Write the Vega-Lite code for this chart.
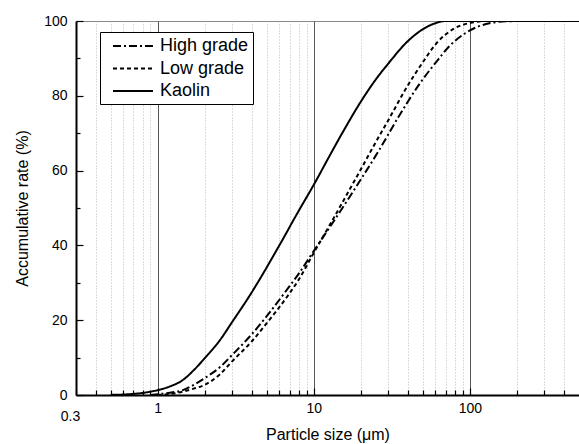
{
  "$schema": "https://vega.github.io/schema/vega-lite/v6.json",
  "width": 503,
  "height": 374,
  "autosize": {"type": "none"},
  "padding": {"left": 76, "top": 21, "right": 0, "bottom": 49},
  "config": {
    "view": {"stroke": "#888", "strokeWidth": 1},
    "font": "Liberation Sans",
    "axis": {"labelColor": "black", "titleColor": "black", "labelFont": "Liberation Sans", "titleFont": "Liberation Sans"}
  },
  "data": {
    "values": [
      {"size": 0.5, "rate": 0.03, "sample": "Kaolin"},
      {"size": 0.6, "rate": 0.12, "sample": "Kaolin"},
      {"size": 0.7, "rate": 0.3, "sample": "Kaolin"},
      {"size": 0.8, "rate": 0.55, "sample": "Kaolin"},
      {"size": 0.9, "rate": 0.9, "sample": "Kaolin"},
      {"size": 1, "rate": 1.3, "sample": "Kaolin"},
      {"size": 1.2, "rate": 2.3, "sample": "Kaolin"},
      {"size": 1.45, "rate": 4, "sample": "Kaolin"},
      {"size": 1.7, "rate": 6.6, "sample": "Kaolin"},
      {"size": 2, "rate": 9.8, "sample": "Kaolin"},
      {"size": 2.5, "rate": 14.6, "sample": "Kaolin"},
      {"size": 3, "rate": 19.5, "sample": "Kaolin"},
      {"size": 4, "rate": 27.4, "sample": "Kaolin"},
      {"size": 4.5, "rate": 30.9, "sample": "Kaolin"},
      {"size": 6, "rate": 39.9, "sample": "Kaolin"},
      {"size": 8, "rate": 49.2, "sample": "Kaolin"},
      {"size": 10, "rate": 56.2, "sample": "Kaolin"},
      {"size": 13, "rate": 64.9, "sample": "Kaolin"},
      {"size": 15.4, "rate": 70.4, "sample": "Kaolin"},
      {"size": 20, "rate": 78.4, "sample": "Kaolin"},
      {"size": 25, "rate": 84.4, "sample": "Kaolin"},
      {"size": 30, "rate": 88.6, "sample": "Kaolin"},
      {"size": 40, "rate": 94.6, "sample": "Kaolin"},
      {"size": 50, "rate": 97.8, "sample": "Kaolin"},
      {"size": 60, "rate": 99.4, "sample": "Kaolin"},
      {"size": 70, "rate": 100, "sample": "Kaolin"},
      {"size": 500, "rate": 100, "sample": "Kaolin"},
      {"size": 0.9, "rate": 0, "sample": "High grade"},
      {"size": 1, "rate": 0.2, "sample": "High grade"},
      {"size": 1.2, "rate": 0.6, "sample": "High grade"},
      {"size": 1.45, "rate": 1.3, "sample": "High grade"},
      {"size": 1.7, "rate": 2.7, "sample": "High grade"},
      {"size": 2, "rate": 4.5, "sample": "High grade"},
      {"size": 2.5, "rate": 7.4, "sample": "High grade"},
      {"size": 3, "rate": 10.7, "sample": "High grade"},
      {"size": 4, "rate": 16.2, "sample": "High grade"},
      {"size": 5, "rate": 21.1, "sample": "High grade"},
      {"size": 7, "rate": 29.1, "sample": "High grade"},
      {"size": 8, "rate": 32.4, "sample": "High grade"},
      {"size": 10, "rate": 38.5, "sample": "High grade"},
      {"size": 13, "rate": 45.6, "sample": "High grade"},
      {"size": 17, "rate": 53, "sample": "High grade"},
      {"size": 20, "rate": 57.6, "sample": "High grade"},
      {"size": 26.5, "rate": 65.8, "sample": "High grade"},
      {"size": 34.7, "rate": 74.2, "sample": "High grade"},
      {"size": 47.8, "rate": 83.3, "sample": "High grade"},
      {"size": 61, "rate": 89.1, "sample": "High grade"},
      {"size": 74, "rate": 93.3, "sample": "High grade"},
      {"size": 95.6, "rate": 97, "sample": "High grade"},
      {"size": 127, "rate": 99.2, "sample": "High grade"},
      {"size": 170, "rate": 99.9, "sample": "High grade"},
      {"size": 220, "rate": 100, "sample": "High grade"},
      {"size": 500, "rate": 100, "sample": "High grade"},
      {"size": 1, "rate": 0, "sample": "Low grade"},
      {"size": 1.2, "rate": 0.25, "sample": "Low grade"},
      {"size": 1.45, "rate": 0.9, "sample": "Low grade"},
      {"size": 1.7, "rate": 1.7, "sample": "Low grade"},
      {"size": 2, "rate": 2.7, "sample": "Low grade"},
      {"size": 2.5, "rate": 5.5, "sample": "Low grade"},
      {"size": 3, "rate": 9, "sample": "Low grade"},
      {"size": 4, "rate": 14.3, "sample": "Low grade"},
      {"size": 5, "rate": 19.2, "sample": "Low grade"},
      {"size": 7, "rate": 27.2, "sample": "Low grade"},
      {"size": 8, "rate": 30.8, "sample": "Low grade"},
      {"size": 10, "rate": 38, "sample": "Low grade"},
      {"size": 13, "rate": 46.3, "sample": "Low grade"},
      {"size": 17, "rate": 55, "sample": "Low grade"},
      {"size": 20, "rate": 60.3, "sample": "Low grade"},
      {"size": 23.4, "rate": 65.5, "sample": "Low grade"},
      {"size": 30.7, "rate": 74.2, "sample": "Low grade"},
      {"size": 39.3, "rate": 82.2, "sample": "Low grade"},
      {"size": 50, "rate": 89, "sample": "Low grade"},
      {"size": 61, "rate": 94, "sample": "Low grade"},
      {"size": 78, "rate": 97.8, "sample": "Low grade"},
      {"size": 98, "rate": 99.4, "sample": "Low grade"},
      {"size": 130, "rate": 100, "sample": "Low grade"},
      {"size": 500, "rate": 100, "sample": "Low grade"}
    ]
  },
  "mark": {"type": "line", "interpolate": "monotone", "strokeWidth": 2, "color": "black", "clip": true},
  "encoding": {
    "x": {
      "field": "size",
      "type": "quantitative",
      "title": "Particle size (μm)",
      "scale": {"type": "log", "domain": [0.3, 500], "nice": false},
      "axis": {
        "values": [0.3, 0.4, 0.5, 0.6, 0.7, 0.8, 0.9, 1, 2, 3, 4, 5, 6, 7, 8, 9, 10, 20, 30, 40, 50, 60, 70, 80, 90, 100, 200, 300, 400],
        "labelExpr": "(datum.value == 0.3 || datum.value == 1 || datum.value == 10 || datum.value == 100) ? toString(datum.value) : ''",
        "labelFontSize": 14,
        "labelPadding": {"condition": {"test": "datum.value == 0.3", "value": 19}, "value": 13},
        "labelOffset": {"condition": {"test": "datum.value == 0.3", "value": -6}, "value": 0},
        "labelFlush": false,
        "labelOverlap": false,
        "domainColor": "black",
        "domainWidth": 2,
        "tickColor": "black",
        "tickWidth": 1.2,
        "tickSize": {"condition": {"test": "datum.value == 1 || datum.value == 10 || datum.value == 100", "value": -7}, "value": -5},
        "grid": true,
        "gridColor": {"condition": {"test": "datum.value == 1 || datum.value == 10 || datum.value == 100", "value": "#555"}, "value": "#bbb"},
        "gridDash": {"condition": {"test": "datum.value == 1 || datum.value == 10 || datum.value == 100", "value": []}, "value": [1, 2]},
        "titleFontSize": 16,
        "titleFontWeight": "normal",
        "titlePadding": 3
      }
    },
    "y": {
      "field": "rate",
      "type": "quantitative",
      "title": "Accumulative rate (%)",
      "scale": {"domain": [0, 100], "nice": false},
      "axis": {
        "values": [0, 10, 20, 30, 40, 50, 60, 70, 80, 90, 100],
        "labelExpr": "datum.value % 20 == 0 ? datum.label : ''",
        "labelFontSize": 14,
        "labelPadding": 16,
        "domainColor": "black",
        "domainWidth": 2,
        "tickColor": "black",
        "tickWidth": 1.2,
        "tickSize": {"condition": {"test": "datum.value % 20 == 0", "value": -7}, "value": -4},
        "grid": false,
        "titleFontSize": 16,
        "titleFontWeight": "normal",
        "titlePadding": 13
      }
    },
    "strokeDash": {
      "field": "sample",
      "type": "nominal",
      "scale": {"domain": ["High grade", "Low grade", "Kaolin"], "range": [[8, 3, 2, 3], [4, 3], [1, 0]]},
      "legend": {
        "orient": "none",
        "legendX": 24,
        "legendY": 11,
        "title": null,
        "strokeColor": "black",
        "fillColor": "white",
        "padding": 4,
        "labelFontSize": 18,
        "labelColor": "black",
        "labelFont": "Liberation Sans",
        "symbolType": "M-0.11,0H4.33",
        "symbolSize": 324,
        "symbolStrokeWidth": 2,
        "symbolStrokeColor": "black",
        "rowPadding": 3.5,
        "labelOffset": 36
      }
    }
  }
}
